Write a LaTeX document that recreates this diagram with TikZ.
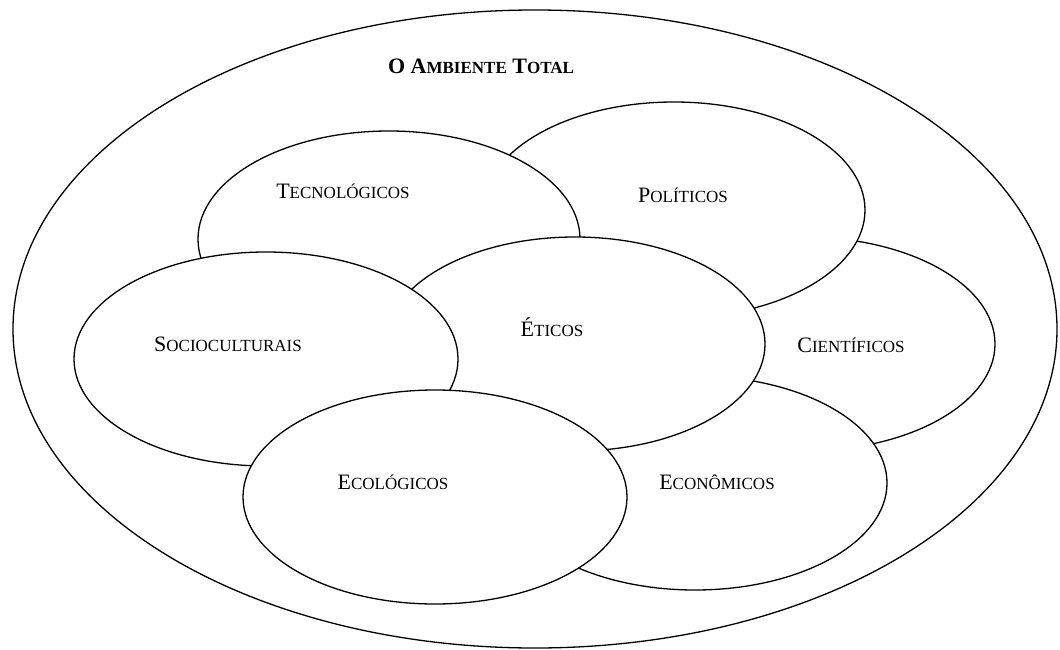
\documentclass[tikz,border=0pt]{standalone}
\usepackage{fontspec}
\setmainfont{Liberation Serif}
\newcommand\scpart[1]{{\fontsize{17}{17}\selectfont #1}}
\begin{document}
\begin{tikzpicture}[x=1pt,y=-1pt,
  blob/.style={draw=black,fill=white,line width=1.3pt},
  lbl/.style={font=\fontsize{22}{22}\selectfont,inner sep=0pt,anchor=base}]
\useasboundingbox (0,0) rectangle (1060,650);
% outer
\draw[line width=1.3pt] (535,329) ellipse [x radius=522pt, y radius=319pt];
% inner ellipses, back to front
\draw[blob] (804,344) ellipse [x radius=191pt, y radius=107pt]; % Cientificos
\draw[blob] (674,210) ellipse [x radius=191pt, y radius=108pt]; % Politicos
\draw[blob] (389,239) ellipse [x radius=191pt, y radius=108pt]; % Tecnologicos
\draw[blob] (695,483) ellipse [x radius=192pt, y radius=107pt]; % Economicos
\draw[blob] (575,344) ellipse [x radius=190pt, y radius=107pt]; % Eticos
\draw[blob] (266,359) ellipse [x radius=192pt, y radius=107pt]; % Socioculturais
\draw[blob] (435,497) ellipse [x radius=192pt, y radius=107pt]; % Ecologicos
% labels
\node[lbl,font=\fontsize{22}{22}\selectfont\bfseries] (title) at (481,74) {O A\scpart{MBIENTE} T\scpart{OTAL}};
\node[lbl] (tec) at (343,198) {T\scpart{ECNOLÓGICOS}};
\node[lbl] (pol) at (683,202) {P\scpart{OLÍTICOS}};
\node[lbl] (cie) at (851,352) {C\scpart{IENTÍFICOS}};
\node[lbl] (eti) at (552,336) {É\scpart{TICOS}};
\node[lbl] (soc) at (228,351) {S\scpart{OCIOCULTURAIS}};
\node[lbl] (ecol) at (393,489) {E\scpart{COLÓGICOS}};
\node[lbl] (econ) at (717,489) {E\scpart{CONÔMICOS}};
\end{tikzpicture}
\end{document}
